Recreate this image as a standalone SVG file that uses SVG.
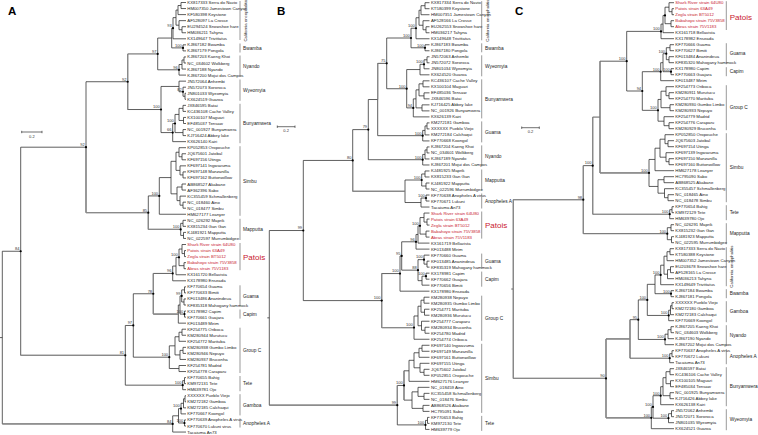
<svg xmlns="http://www.w3.org/2000/svg" width="758" height="435" viewBox="0 0 758 435">
<style>
.br{fill:none;stroke:#2a2a2a;stroke-width:0.75}
.gr{fill:none;stroke:#8a8a8a;stroke-width:1.2}
.lf{font-family:"Liberation Sans",Arial,sans-serif;font-size:4.3px;fill:#222}
.red{fill:#c8202f}
.nl{font-family:"Liberation Sans",Arial,sans-serif;font-size:4px;fill:#333;text-anchor:end}
.dot{fill:#000}
.cl{font-family:"Liberation Sans",Arial,sans-serif;font-size:4.8px;fill:#222}
.pat{font-size:8px;fill:#c8202f}
.bar{fill:none;stroke:#555;stroke-width:0.6}
.pl{font-family:"Liberation Sans",Arial,sans-serif;font-size:11.5px;font-weight:bold;fill:#000}
.sb{fill:none;stroke:#333;stroke-width:0.7}
.sbt{font-family:"Liberation Sans",Arial,sans-serif;font-size:4px;fill:#333;text-anchor:middle}
.vt{text-anchor:middle;font-size:4.3px}
</style>
<rect width="758" height="435" fill="#fff"/>

<!-- ================= PANEL A ================= -->
<g id="panelA">
<text class="pl" x="8" y="15">A</text>
<g id="A-connectors">
<path class="br" d="M0,337.6H2.3 M2.3,251.26V423.93 M2.3,251.26H20.7 M2.3,423.93H172.7
M20.7,147.19V355.32 M20.7,147.19H86 M20.7,355.32H125.3
M86,81.73V212.65 M86,81.73H127.7 M86,212.65H148.3
M127.7,53.93V109.52 M127.7,53.93H157.7 M127.7,109.52H161
M157.7,38.05V69.81 M157.7,38.05H171.7 M157.7,69.81H179
M171.7,28.21V47.88 M171.7,28.21H173 M171.7,47.88H183
M173,17.63V38.8 M173,17.63H176 M173,38.8H186
M176,10.06V25.19 M176,10.06H178 M176,25.19H179
M178,5.53V14.6 M178,5.53H181 M178,14.6H186
M181,2.5V8.55 M181,2.5H186 M181,8.55H186
M179,20.65V29.73 M179,20.65H186 M179,29.73H182
M182,26.7V32.75 M182,26.7H186 M182,32.75H186
M183,44.85V50.9 M183,44.85H186 M183,50.9H186
M179,64.51V75.1 M179,64.51H182 M179,75.1H186
M182,59.98V69.05 M182,59.98H184 M182,69.05H186
M184,56.95V63 M184,56.95H186 M184,63H186
M161,86.45V132.58 M161,86.45H179 M161,132.58H172.7
M179,81.15V91.74 M179,81.15H186 M179,91.74H183
M183,87.2V96.28 M183,87.2H186 M183,96.28H185
M185,93.25V99.3 M185,93.25H186 M185,99.3H186
M172.7,123.5V141.65 M172.7,123.5H175 M172.7,141.65H186
M175,114.43V132.58 M175,114.43H179 M175,132.58H183
M179,108.38V120.48 M179,108.38H183 M179,120.48H183.5
M183,105.35V111.4 M183,105.35H186 M183,111.4H186
M183.5,117.45V123.5 M183.5,117.45H186 M183.5,123.5H186
M183,129.55V135.6 M183,129.55H186 M183,135.6H186
M148.3,195.92V229.38 M148.3,195.92H159.3 M148.3,229.38H180.7
M159.3,177.58V214.25 M159.3,177.58H171 M159.3,214.25H186
M171,161.32V193.84 M171,161.32H176 M171,193.84H177
M176,152.24V170.39 M176,152.24H179 M176,170.39H180
M179,147.7V156.78 M179,147.7H186 M179,156.78H182
M182,153.75V159.8 M182,153.75H186 M182,159.8H186
M180,165.85V174.93 M180,165.85H186 M180,174.93H183
M183,171.9V177.95 M183,171.9H186 M183,177.95H186
M177,187.03V200.64 M177,187.03H182 M177,200.64H180
M182,184V190.05 M182,184H186 M182,190.05H186
M180,196.1V205.18 M180,196.1H186 M180,205.18H183
M183,202.15V208.2 M183,202.15H186 M183,208.2H186
M180.7,223.33V235.43 M180.7,223.33H183 M180.7,235.43H183.5
M183,220.3V226.35 M183,220.3H186 M183,226.35H186
M183.5,232.4V238.45 M183.5,232.4H186 M183.5,238.45H186
M125.3,325.47V385.16 M125.3,325.47H133.3 M125.3,385.16H182.7
M133.3,293.76V357.18 M133.3,293.76H153.3 M133.3,357.18H169.3
M153.3,273.43V314.08 M153.3,273.43H172.7 M153.3,314.08H178.3
M172.7,266.06V280.8 M172.7,266.06H176 M172.7,280.8H186
M176,257.36V274.75 M176,257.36H179 M176,274.75H186
M179,249.04V265.68 M179,249.04H182 M179,265.68H184
M182,244.5V253.58 M182,244.5H186 M182,253.58H184.5
M184.5,250.55V256.6 M184.5,250.55H186 M184.5,256.6H186
M184,262.65V268.7 M184,262.65H186 M184,268.7H186
M178.3,305V323.15 M178.3,305H180 M178.3,323.15H186
M180,295.93V314.08 M180,295.93H181.7 M180,314.08H184.5
M181.7,289.88V301.98 M181.7,289.88H184.5 M181.7,301.98H184
M184.5,286.85V292.9 M184.5,286.85H186 M184.5,292.9H186
M184,298.95V305 M184,298.95H186 M184,305H186
M184.5,311.05V317.1 M184.5,311.05H186 M184.5,317.1H186
M169.3,345.84V368.53 M169.3,345.84H175 M169.3,368.53H179
M175,336.76V354.91 M175,336.76H179 M175,354.91H180
M179,332.23V341.3 M179,332.23H182 M179,341.3H186
M182,329.2V335.25 M182,329.2H186 M182,335.25H186
M180,350.38V359.45 M180,350.38H183 M180,359.45H186
M183,347.35V353.4 M183,347.35H186 M183,353.4H186
M179,365.5V371.55 M179,365.5H186 M179,371.55H186
M182.7,380.63V389.7 M182.7,380.63H184.5 M182.7,389.7H186
M184.5,377.6V383.65 M184.5,377.6H186 M184.5,383.65H186
M172.7,415.8V432.05 M172.7,415.8H178.5 M172.7,432.05H186
M178.5,408.61V422.98 M178.5,408.61H181 M178.5,422.98H184.5
M181,403.31V413.9 M181,403.31H183.5 M181,413.9H186
M183.5,398.78V407.85 M183.5,398.78H185 M183.5,407.85H186
M185,395.75V401.8 M185,395.75H186 M185,401.8H186
M184.5,419.95V426 M184.5,419.95H186 M184.5,426H186"/>
<path class="gr" d="M86,147.19V212.65 M86,212.65H148.3 M20.7,355.32H125.3 M2.3,423.93H172.7 M127.7,53.93V109.52 M148.3,212.65V229.38 M148.3,229.38H180.7 M153.3,273.43V314.08 M153.3,314.08H178.3"/>
</g>
<g id="A-dots" class="dot">
<circle cx="173" cy="28.21" r="1.1"/><circle cx="183" cy="47.88" r="1.1"/><circle cx="157.7" cy="53.93" r="1.1"/><circle cx="179" cy="69.81" r="1.1"/><circle cx="127.7" cy="81.73" r="1.1"/><circle cx="183" cy="91.74" r="1.1"/><circle cx="161" cy="109.52" r="1.1"/><circle cx="175" cy="123.5" r="1.1"/><circle cx="172.7" cy="132.58" r="1.1"/><circle cx="86" cy="147.19" r="1.1"/><circle cx="159.3" cy="195.92" r="1.1"/><circle cx="148.3" cy="212.65" r="1.1"/><circle cx="180.7" cy="229.38" r="1.1"/><circle cx="179" cy="257.36" r="1.1"/><circle cx="172.7" cy="273.43" r="1.1"/><circle cx="153.3" cy="293.76" r="1.1"/><circle cx="181.7" cy="295.93" r="1.1"/><circle cx="184.5" cy="314.08" r="1.1"/><circle cx="133.3" cy="325.47" r="1.1"/><circle cx="125.3" cy="355.32" r="1.1"/><circle cx="169.3" cy="357.18" r="1.1"/><circle cx="182.7" cy="385.16" r="1.1"/><circle cx="20.7" cy="251.26" r="1.1"/><circle cx="181" cy="408.61" r="1.1"/><circle cx="184.5" cy="422.98" r="1.1"/><circle cx="172.7" cy="423.93" r="1.1"/>
</g>
<g id="A-support" class="nl">
<text x="171.8" y="27">93</text><text x="181.8" y="46.7">100</text><text x="156.5" y="52.7">97</text><text x="177.8" y="68.6">96</text><text x="126.5" y="80.5">92</text><text x="181.8" y="90.5">82</text><text x="159.8" y="108.3">100</text><text x="173.8" y="122.3">100</text><text x="171.5" y="131.4">66</text><text x="84.8" y="146">92</text><text x="158.1" y="194.7">100</text><text x="147.1" y="211.5">85</text><text x="179.5" y="228.2">100</text><text x="177.8" y="256.2">100</text><text x="171.5" y="272.2">96</text><text x="152.1" y="292.6">78</text><text x="180.5" y="294.7">99</text><text x="183.3" y="312.9">100</text><text x="132.1" y="324.3">97</text><text x="124.1" y="354.1">81</text><text x="168.1" y="356">100</text><text x="181.5" y="384">100</text><text x="19.5" y="250.1">84</text><text x="179.8" y="407.4">100</text><text x="183.3" y="421.8">100</text><text x="171.5" y="422.7">84</text>
</g>
<g id="A-leaves" class="lf" transform="translate(187.3,0)">
<text y="4">KX817333 Serra do Navio</text><text y="10.05">HM007350 Jamestown Canyon</text><text y="16.1">KF580398 Keystone</text><text y="22.15">AF528097 La Crosse</text><text y="28.2">EU294524 Snowshoe hare</text><text y="34.25">HM036211 Tahyna</text><text y="40.3">KX149647 Trivittatus</text><text y="46.35">KJ867182 Bwamba</text><text y="52.4">KJ867179 Pongola</text><text y="58.45">KJ867203 Kaeng Khoi</text><text y="64.5">NC_034602 Wolkberg</text><text y="70.55">KJ867188 Nyando</text><text y="76.6">KJ867200 Mojui dos Campos</text><text y="82.65">JN572064 Anhembi</text><text y="88.7">JN572073 Sororoca</text><text y="94.75">JN801033 Wyeomyia</text><text y="100.8">KX624519 Guaroa</text><text y="106.85">JX846595 Batai</text><text y="112.9">KC436108 Cache Valley</text><text y="118.95">KX100107 Maguari</text><text y="125">EF485037 Tensaw</text><text y="131.05">NC_001927 Bunyamwera</text><text y="137.1">KJ716424 Abbey lake</text><text y="143.15">KX626140 Kairi</text><text y="149.2">KP052853 Oropouche</text><text y="155.25">JQ675601 Jatobal</text><text y="161.3">KF697156 Utinga</text><text y="167.35">KF697141 Ingwavuma</text><text y="173.4">KF697148 Manzanilla</text><text y="179.45">KF697162 Buttonwillow</text><text y="185.5">AB868527 Akabane</text><text y="191.55">AF362396 Sabo</text><text y="197.6">KC355459 Schmallenberg</text><text y="203.65">NC_018460 Aino</text><text y="209.7">NC_018477 Simbu</text><text y="215.75">HM627177 Leanyer</text><text y="221.8">NC_026292 Maprik</text><text y="227.85">KX815234 Gan Gan</text><text y="233.9">KJ481921 Mapputta</text><text y="239.95">NC_022597 Murrumbidgee</text>
<text class="red" y="246">Shark River strain 64U80</text><text class="red" y="252.05">Patois strain 63A49</text><text class="red" y="258.1">Zegla strain BT5012</text><text class="red" y="264.15">Babahoyo strain 75V3858</text><text class="red" y="270.2">Abras strain 75V1183</text>
<text y="276.25">KX161720 Bellavista</text><text y="282.3">KX178980 Enseada</text><text y="288.35">KF770654 Guama</text><text y="294.4">KF770633 Bimiti</text><text y="300.45">KF013486 Ananindeua</text><text y="306.5">KF835318 Mahogany hammock</text><text y="312.55">KX178982 Capim</text><text y="318.6">KF770661 Guajara</text><text y="324.65">KF013489 Mirim</text><text y="330.7">KF254775 Oriboca</text><text y="336.75">KM280944 Murutucu</text><text y="342.8">KF254772 Marituba</text><text y="348.85">KM280938 Gumbo Limbo</text><text y="354.9">KM280946 Nepuyo</text><text y="360.95">KM280937 Bruconha</text><text y="367">KF254781 Madrid</text><text y="373.05">KF254778 Caraparu</text><text y="379.1">KF770655 Bahig</text><text y="385.15">KM972131 Tete</text><text y="391.2">HM639781 Ojo</text><text y="397.25">XXXXXX Pueblo Viejo</text><text y="403.3">KM272182 Gamboa</text><text y="409.35">KM272185 Calchaqui</text><text y="415.4">KF770667 Koongol</text><text y="421.45">KF770639 Anopheles A virus</text><text y="427.5">KF770670 Lukuni virus</text><text y="433.55">Tacaiuma An73</text>
</g>
<g id="A-clades">
<path class="bar" d="M240,1V40 M240,43.5V52.5 M240,55.5V76.5 M240,79.5V100.8 M240,103.8V143.2 M240,146.2V215.8 M240,218.8V240 M240,243V270.2 M240,285.3V306.5 M240,309.5V318.6 M240,327.7V373 M240,376V391.2 M240,394.2V415.4 M240,418.4V427.5"/>
<text class="lf vt" transform="translate(247,20.5) rotate(-90)">California encephalitis</text>
<g class="cl" transform="translate(243,0)">
<text y="49.6">Bwamba</text><text y="67.7">Nyando</text><text y="91.9">Wyeomyia</text><text y="125.2">Bunyamwera</text><text y="182.7">Simbu</text><text y="231.1">Mapputta</text><text class="pat" y="259.5">Patois</text><text y="297.7">Guama</text><text y="315.8">Capim</text><text y="352.1">Group C</text><text y="385.3">Tete</text><text y="406.5">Gamboa</text><text y="424.7">Anopheles A</text>
</g>
</g>
<g id="A-scale">
<path class="sb" d="M21.7,132H42 M21.7,130.8V133.2 M42,130.8V133.2"/>
<text class="sbt" x="31.85" y="137.5">0.2</text>
</g>
</g>

<!-- ================= PANEL B ================= -->
<g id="panelB">
<text class="pl" x="277" y="15">B</text>
<g id="B-connectors">
<path class="br" d="M267.3,317.85H269.3 M269.3,230.52V405.18 M269.3,230.52H303.3 M269.3,405.18H397.3
M303.3,160.44V300.6 M303.3,160.44H352.7 M303.3,300.6H381.7
M352.7,129.62V191.27 M352.7,129.62H368.3 M352.7,191.27H405
M368.3,99.52V159.71 M368.3,99.52H377.7 M368.3,159.71H422.7
M377.7,63.37V135.67 M377.7,63.37H386.7 M377.7,135.67H422.7
M386.7,38.01V88.72 M386.7,38.01H411 M386.7,88.72H406.7
M411,28.24V47.78 M411,28.24H416 M411,47.78H425
M416,17.73V38.76 M416,17.73H419 M416,38.76H429.5
M419,10.21V25.24 M419,10.21H421 M419,25.24H423
M421,5.71V14.72 M421,5.71H425 M421,14.72H429.5
M425,2.7V8.71 M425,2.7H429.5 M425,8.71H429.5
M423,20.73V29.75 M423,20.73H429.5 M423,29.75H426
M426,26.74V32.75 M426,26.74H429.5 M426,32.75H429.5
M425,44.77V50.78 M425,44.77H429.5 M425,50.78H429.5
M406.7,69.56V107.88 M406.7,69.56H420 M406.7,107.88H413.3
M420,64.3V74.82 M420,64.3H424 M420,74.82H429.5
M424,59.8V68.81 M424,59.8H427 M424,68.81H429.5
M427,56.79V62.8 M427,56.79H429.5 M427,62.8H429.5
M413.3,98.87V116.89 M413.3,98.87H416 M413.3,116.89H429.5
M416,89.85V107.88 M416,89.85H419 M416,107.88H422
M419,83.84V95.86 M419,83.84H423 M419,95.86H424
M423,80.83V86.84 M423,80.83H429.5 M423,86.84H429.5
M424,92.85V98.86 M424,92.85H429.5 M424,98.86H429.5
M422,104.87V110.88 M422,104.87H429.5 M422,110.88H429.5
M422.7,130.41V140.93 M422.7,130.41H425 M422.7,140.93H429.5
M425,125.91V134.92 M425,125.91H427 M425,134.92H429.5
M427,122.9V128.91 M427,122.9H429.5 M427,128.91H429.5
M422.7,154.45V164.97 M422.7,154.45H425 M422.7,164.97H429.5
M425,149.95V158.96 M425,149.95H427 M425,158.96H429.5
M427,146.94V152.95 M427,146.94H429.5 M427,152.95H429.5
M405,180V202.53 M405,180H421.7 M405,202.53H421
M421.7,173.99V186.01 M421.7,173.99H425 M421.7,186.01H426
M425,170.98V176.99 M425,170.98H429.5 M425,176.99H429.5
M426,183V189.01 M426,183H429.5 M426,189.01H429.5
M421,198.03V207.04 M421,198.03H426 M421,207.04H429.5
M426,195.02V201.03 M426,195.02H429.5 M426,201.03H429.5
M381.7,273.57V327.62 M381.7,273.57H400 M381.7,327.62H414
M400,255.97V291.18 M400,255.97H401.7 M400,291.18H429.5
M401.7,241.79V270.15 M401.7,241.79H416 M401.7,270.15H418
M416,234.46V249.11 M416,234.46H418 M416,249.11H429.5
M418,225.82V243.1 M418,225.82H420 M418,243.1H429.5
M420,217.56V234.09 M420,217.56H424 M420,234.09H426
M424,213.05V222.07 M424,213.05H429.5 M424,222.07H427
M427,219.06V225.07 M427,219.06H429.5 M427,225.07H429.5
M426,231.08V237.09 M426,231.08H429.5 M426,237.09H429.5
M418,259.63V280.66 M418,259.63H424 M418,280.66H422
M424,255.12V264.14 M424,255.12H429.5 M424,264.14H427
M427,261.13V267.14 M427,261.13H429.5 M427,267.14H429.5
M422,276.16V285.17 M422,276.16H426 M422,285.17H429.5
M426,273.15V279.16 M426,273.15H429.5 M426,279.16H429.5
M414,315.98V339.26 M414,315.98H418 M414,339.26H429.5
M418,306.21V325.74 M418,306.21H421 M418,325.74H421.5
M421,300.2V312.22 M421,300.2H424 M421,312.22H424.5
M424,297.19V303.2 M424,297.19H429.5 M424,303.2H429.5
M424.5,309.21V315.22 M424.5,309.21H429.5 M424.5,315.22H429.5
M421.5,321.23V330.25 M421.5,321.23H429.5 M421.5,330.25H425
M425,327.24V333.25 M425,327.24H429.5 M425,333.25H429.5
M397.3,385.46V424.9 M397.3,385.46H404 M397.3,424.9H425.5
M404,370.81V400.11 M404,370.81H409 M404,400.11H412
M409,360.3V381.33 M409,360.3H414 M409,381.33H429.5
M414,352.78V367.81 M414,352.78H419 M414,367.81H420
M419,348.28V357.29 M419,348.28H422 M419,357.29H429.5
M422,345.27V351.28 M422,345.27H429.5 M422,351.28H429.5
M420,363.3V372.32 M420,363.3H429.5 M420,372.32H424
M424,369.31V375.32 M424,369.31H429.5 M424,375.32H429.5
M412,391.85V408.38 M412,391.85H418 M412,408.38H423
M418,387.34V396.36 M418,387.34H429.5 M418,396.36H424
M424,393.35V399.36 M424,393.35H429.5 M424,399.36H429.5
M423,405.37V411.38 M423,405.37H429.5 M423,411.38H429.5
M425.5,420.4V429.41 M425.5,420.4H427.5 M425.5,429.41H429.5
M427.5,417.39V423.4 M427.5,417.39H429.5 M427.5,423.4H429.5"/>
<path class="gr" d="M269.3,405.18H397.3 M352.7,160.44V191.27 M352.7,191.27H405 M381.7,273.57V327.62 M381.7,327.62H414 M397.3,385.46V405.18 M404,370.81V400.11 M377.7,63.37V99.52"/>
</g>
<g id="B-dots" class="dot">
<circle cx="416" cy="28.24" r="1.1"/><circle cx="411" cy="38.01" r="1.1"/><circle cx="425" cy="47.78" r="1.1"/><circle cx="386.7" cy="63.37" r="1.1"/><circle cx="424" cy="64.3" r="1.1"/><circle cx="406.7" cy="88.72" r="1.1"/><circle cx="413.3" cy="107.88" r="1.1"/><circle cx="368.3" cy="129.62" r="1.1"/><circle cx="422.7" cy="135.67" r="1.1"/><circle cx="352.7" cy="160.44" r="1.1"/><circle cx="422.7" cy="159.71" r="1.1"/><circle cx="303.3" cy="230.52" r="1.1"/><circle cx="421.7" cy="180" r="1.1"/><circle cx="426" cy="198.03" r="1.1"/><circle cx="420" cy="225.82" r="1.1"/><circle cx="416" cy="241.79" r="1.1"/><circle cx="401.7" cy="255.97" r="1.1"/><circle cx="424" cy="259.63" r="1.1"/><circle cx="418" cy="270.15" r="1.1"/><circle cx="426" cy="276.16" r="1.1"/><circle cx="400" cy="273.57" r="1.1"/><circle cx="381.7" cy="300.6" r="1.1"/><circle cx="414" cy="327.62" r="1.1"/><circle cx="404" cy="385.46" r="1.1"/><circle cx="397.3" cy="405.18" r="1.1"/><circle cx="425.5" cy="424.9" r="1.1"/>
</g>
<g id="B-support" class="nl">
<text x="414.8" y="27">100</text><text x="409.8" y="36.8">100</text><text x="423.8" y="46.6">100</text><text x="385.5" y="62.2">75</text><text x="422.8" y="63.1">100</text><text x="405.5" y="87.5">100</text><text x="412.1" y="106.7">94</text><text x="367.1" y="128.4">79</text><text x="421.5" y="134.5">100</text><text x="351.5" y="159.2">80</text><text x="421.5" y="158.5">100</text><text x="302.1" y="229.3">99</text><text x="420.5" y="178.8">100</text><text x="424.8" y="196.8">100</text><text x="418.8" y="224.6">100</text><text x="414.8" y="240.6">96</text><text x="400.5" y="254.8">95</text><text x="422.8" y="258.4">100</text><text x="416.8" y="269">88</text><text x="424.8" y="275">100</text><text x="398.8" y="272.4">100</text><text x="380.5" y="299.4">100</text><text x="412.8" y="326.4">100</text><text x="402.8" y="384.3">100</text><text x="396.1" y="404">99</text><text x="424.3" y="423.7">100</text>
</g>
<g id="B-leaves" class="lf" transform="translate(431,0)">
<text y="4.2">KX817334 Serra do Navio</text><text y="10.21">KT580399 Keystone</text><text y="16.22">HM007351 Jamestown Canyon</text><text y="22.23">AF528166 La Crosse</text><text y="28.24">EU262553 Snowshoe hare</text><text y="34.25">HM036217 Tahyna</text><text y="40.26">KX149648 Trivittatus</text><text y="46.27">KJ867183 Bwamba</text><text y="52.28">KJ867180 Pongola</text><text y="58.29">JN572063 Anhembi</text><text y="64.3">JN572072 Sororoca</text><text y="70.31">JN801034 Wyeomyia</text><text y="76.32">KX624520 Guaroa</text><text y="82.33">KC436107 Cache Valley</text><text y="88.34">KX100104 Maguari</text><text y="94.35">EF485036 Tensaw</text><text y="100.36">JX846596 Batai</text><text y="106.37">KJ716425 Abbey lake</text><text y="112.38">NC_001926 Bunyamwera</text><text y="118.39">KX626139 Kairi</text><text y="124.4">KM272181 Gamboa</text><text y="130.41">XXXXXX Pueblo Viejo</text><text y="136.42">KM272184 Calchaqui</text><text y="142.43">KF770668 Koongol</text><text y="148.44">KJ867204 Kaeng Khoi</text><text y="154.45">NC_034601 Wolkberg</text><text y="160.46">KJ867189 Nyando</text><text y="166.47">KJ867201 Mojui dos Campos</text><text y="172.48">KJ481925 Maprik</text><text y="178.49">KX815233 Gan Gan</text><text y="184.5">KJ481922 Mapputta</text><text y="190.51">NC_022596 Murrumbidgee</text><text y="196.52">KF770638 Anopheles A virus</text><text y="202.53">KF770671 Lukuni</text><text y="208.54">Tacaiuma An73</text>
<text class="red" y="214.55">Shark River strain 64U80</text><text class="red" y="220.56">Patois strain 63A49</text><text class="red" y="226.57">Zegla strain BT5012</text><text class="red" y="232.58">Babahoyo strain 75V3858</text><text class="red" y="238.59">Abras strain 75V1183</text>
<text y="244.6">KX161719 Bellavista</text><text y="250.61">KF013488 Mirim</text><text y="256.62">KF770660 Guama</text><text y="262.63">KF013485 Ananindeua</text><text y="268.64">KF835319 Mahogany hammock</text><text y="274.65">KX178981 Capim</text><text y="280.66">KF770662 Guajara</text><text y="286.67">KF770656 Bimiti</text><text y="292.68">KX178980 Enseada</text><text y="298.69">KM280938 Nepuyo</text><text y="304.7">KM280935 Gumbo Limbo</text><text y="310.71">KF254771 Marituba</text><text y="316.72">KM280936 Murutucu</text><text y="322.73">KF254777 Caraparu</text><text y="328.74">KM280934 Bruconha</text><text y="334.75">KF254780 Madrid</text><text y="340.76">KF254774 Oriboca</text><text y="346.77">KF697140 Ingwavuma</text><text y="352.78">KF697149 Manzanilla</text><text y="358.79">KF697161 Buttonwillow</text><text y="364.8">KF697155 Utinga</text><text y="370.81">JQ675602 Jatobal</text><text y="376.82">KP052851 Oropouche</text><text y="382.83">HM627176 Leanyer</text><text y="388.84">NC_018459 Aino</text><text y="394.85">KC355458 Schmallenberg</text><text y="400.86">NC_018476 Simbu</text><text y="406.87">AB868526 Akabane</text><text y="412.88">HC795091 Sabo</text><text y="418.89">KF770653 Bahig</text><text y="424.9">KM972130 Tete</text><text y="430.91">HM639779 Ojo</text>
</g>
<g id="B-clades">
<path class="bar" d="M481.7,1.2V40.3 M481.7,43.3V52.3 M481.7,55.3V76.3 M481.7,79.3V118.4 M481.7,121.4V142.4 M481.7,145.4V166.5 M481.7,169.5V190.5 M481.7,193.5V208.5 M481.7,211.5V238.6 M481.7,253.6V268.6 M481.7,271.6V286.7 M481.7,295.7V340.8 M481.7,343.8V412.9 M481.7,415.9V430.9"/>
<text class="lf vt" transform="translate(488.5,20.7) rotate(-90)">California encephalitis</text>
<g class="cl" transform="translate(485,0)">
<text y="49.5">Bwamba</text><text y="67.5">Wyeomyia</text><text y="100.6">Bunyamwera</text><text y="133.6">Guama</text><text y="157.7">Nyando</text><text y="181.7">Mapputta</text><text y="202.7">Anopheles A</text><text class="pat" y="228">Patois</text><text y="262.8">Guama</text><text y="280.9">Capim</text><text y="319.9">Group C</text><text y="380">Simbu</text><text y="425.1">Tete</text>
</g>
</g>
<g id="B-scale">
<path class="sb" d="M277.3,126.7H295 M277.3,125.5V127.9 M295,125.5V127.9"/>
<text class="sbt" x="286.15" y="132.3">0.2</text>
</g>
</g>

<!-- ================= PANEL C ================= -->
<g id="panelC">
<text class="pl" x="515" y="15">C</text>
<g id="C-connectors">
<path class="br" d="M511.3,289.03H513.3 M513.3,199.67V378.38 M513.3,199.67H583.3 M513.3,378.38H606
M583.3,165.64V233.7 M583.3,165.64H592.7 M583.3,233.7H667.3
M592.7,117.08V214.2 M592.7,117.08H600 M592.7,214.2H669.7
M600,61.2V172.95 M600,61.2H626.7 M600,172.95H649
M626.7,31.39V91.01 M626.7,31.39H661 M626.7,91.01H642.3
M661,24.08V38.7 M661,24.08H663 M661,38.7H674
M663,15.45V32.7 M663,15.45H665 M663,32.7H674
M665,7.2V23.7 M665,7.2H669 M665,23.7H671
M669,2.7V11.7 M669,2.7H674 M669,11.7H672
M672,8.7V14.7 M672,8.7H674 M672,14.7H674
M671,20.7V26.7 M671,20.7H674 M671,26.7H674
M642.3,71.7V110.33 M642.3,71.7H660.7 M642.3,110.33H658
M660.7,62.7V80.7 M660.7,62.7H663 M660.7,80.7H674
M663,53.7V71.7 M663,53.7H666.3 M663,71.7H671
M666.3,47.7V59.7 M666.3,47.7H670 M666.3,59.7H669
M670,44.7V50.7 M670,44.7H674 M670,50.7H674
M669,56.7V62.7 M669,56.7H674 M669,62.7H674
M671,68.7V74.7 M671,68.7H674 M671,74.7H674
M658,99.45V121.2 M658,99.45H661 M658,121.2H664
M661,91.2V107.7 M661,91.2H666 M661,107.7H670
M666,86.7V95.7 M666,86.7H674 M666,95.7H669
M669,92.7V98.7 M669,92.7H674 M669,98.7H674
M670,104.7V110.7 M670,104.7H674 M670,110.7H674
M664,116.7V125.7 M664,116.7H674 M664,125.7H669
M669,122.7V128.7 M669,122.7H674 M669,128.7H674
M649,159.45V186.45 M649,159.45H655 M649,186.45H658
M655,148.2V170.7 M655,148.2H660 M655,170.7H674
M660,139.2V157.2 M660,139.2H665 M660,157.2H666
M665,134.7V143.7 M665,134.7H674 M665,143.7H668
M668,140.7V146.7 M668,140.7H674 M668,146.7H674
M666,152.7V161.7 M666,152.7H674 M666,161.7H669
M669,158.7V164.7 M669,158.7H674 M669,164.7H674
M658,179.7V193.2 M658,179.7H664 M658,193.2H664.5
M664,176.7V182.7 M664,176.7H674 M664,182.7H674
M664.5,188.7V197.7 M664.5,188.7H674 M664.5,197.7H668
M668,194.7V200.7 M668,194.7H674 M668,200.7H674
M669.7,209.7V218.7 M669.7,209.7H672 M669.7,218.7H674
M672,206.7V212.7 M672,206.7H674 M672,212.7H674
M667.3,227.7V239.7 M667.3,227.7H671 M667.3,239.7H671.5
M671,224.7V230.7 M671,224.7H674 M671,230.7H674
M671.5,236.7V242.7 M671.5,236.7H674 M671.5,242.7H674
M606,338.94V417.83 M606,338.94H630 M606,417.83H651.3
M630,319.67V358.2 M630,319.67H638.3 M630,358.2H669.7
M638.3,299.89V339.45 M638.3,299.89H647.3 M638.3,339.45H665
M647.3,284.33V315.45 M647.3,284.33H655 M647.3,315.45H668.7
M655,274.95V293.7 M655,274.95H660.7 M655,293.7H671
M660.7,265.2V284.7 M660.7,265.2H664 M660.7,284.7H674
M664,256.2V274.2 M664,256.2H667 M664,274.2H667.5
M667,251.7V260.7 M667,251.7H670 M667,260.7H674
M670,248.7V254.7 M670,248.7H674 M670,254.7H674
M667.5,269.7V278.7 M667.5,269.7H670.5 M667.5,278.7H674
M670.5,266.7V272.7 M670.5,266.7H674 M670.5,272.7H674
M671,290.7V296.7 M671,290.7H674 M671,296.7H674
M668.7,310.2V320.7 M668.7,310.2H670.5 M668.7,320.7H674
M670.5,305.7V314.7 M670.5,305.7H672 M670.5,314.7H674
M672,302.7V308.7 M672,302.7H674 M672,308.7H674
M665,334.2V344.7 M665,334.2H668 M665,344.7H674
M668,329.7V338.7 M668,329.7H671 M668,338.7H674
M671,326.7V332.7 M671,326.7H674 M671,332.7H674
M669.7,353.7V362.7 M669.7,353.7H672 M669.7,362.7H674
M672,350.7V356.7 M672,350.7H674 M672,356.7H674
M651.3,406.95V428.7 M651.3,406.95H653 M651.3,428.7H674
M653,395.7V418.2 M653,395.7H660.7 M653,418.2H668.5
M660.7,386.7V404.7 M660.7,386.7H663 M660.7,404.7H674
M663,377.7V395.7 M663,377.7H666 M663,395.7H670
M666,371.7V383.7 M666,371.7H670 M666,383.7H670.5
M670,368.7V374.7 M670,368.7H674 M670,374.7H674
M670.5,380.7V386.7 M670.5,380.7H674 M670.5,386.7H674
M670,392.7V398.7 M670,392.7H674 M670,398.7H674
M668.5,413.7V422.7 M668.5,413.7H671.5 M668.5,422.7H674
M671.5,410.7V416.7 M671.5,410.7H674 M671.5,416.7H674"/>
<path class="gr" d="M513.3,199.67V378.38 M513.3,199.67H583.3 M583.3,165.64V233.7 M592.7,117.08V214.2 M600,61.2V172.95 M600,172.95H649 M606,338.94V417.83 M606,338.94H630 M630,319.67V358.2 M606,417.83H651.3 M513.3,378.38H606"/>
</g>
<g id="C-dots" class="dot">
<circle cx="661" cy="31.39" r="1.1"/><circle cx="665" cy="15.45" r="1.1"/><circle cx="666.3" cy="53.7" r="1.1"/><circle cx="671" cy="71.7" r="1.1"/><circle cx="660.7" cy="71.7" r="1.1"/><circle cx="658" cy="110.33" r="1.1"/><circle cx="642.3" cy="91.01" r="1.1"/><circle cx="626.7" cy="61.2" r="1.1"/><circle cx="649" cy="172.95" r="1.1"/><circle cx="669.7" cy="214.2" r="1.1"/><circle cx="592.7" cy="165.64" r="1.1"/><circle cx="667.3" cy="233.7" r="1.1"/><circle cx="583.3" cy="199.67" r="1.1"/><circle cx="660.7" cy="274.95" r="1.1"/><circle cx="671" cy="293.7" r="1.1"/><circle cx="668.7" cy="315.45" r="1.1"/><circle cx="647.3" cy="299.89" r="1.1"/><circle cx="638.3" cy="319.67" r="1.1"/><circle cx="665" cy="339.45" r="1.1"/><circle cx="669.7" cy="358.2" r="1.1"/><circle cx="660.7" cy="395.7" r="1.1"/><circle cx="653" cy="406.95" r="1.1"/><circle cx="668.5" cy="418.2" r="1.1"/><circle cx="651.3" cy="417.83" r="1.1"/><circle cx="606" cy="378.38" r="1.1"/>
</g>
<g id="C-support" class="nl">
<text x="659.8" y="30.2">100</text><text x="665.1" y="52.5">100</text><text x="669.8" y="70.5">100</text><text x="659.5" y="70.5">100</text><text x="656.8" y="109.1">100</text><text x="641.1" y="89.8">94</text><text x="625.5" y="60">100</text><text x="647.8" y="171.8">100</text><text x="668.5" y="213">100</text><text x="591.5" y="164.4">100</text><text x="666.1" y="232.5">100</text><text x="582.1" y="198.5">98</text><text x="659.5" y="273.8">100</text><text x="669.8" y="292.5">100</text><text x="667.5" y="314.3">100</text><text x="646.1" y="298.7">100</text><text x="637.1" y="318.5">95</text><text x="663.8" y="338.3">100</text><text x="668.5" y="357">100</text><text x="659.5" y="394.5">100</text><text x="651.8" y="405.8">100</text><text x="667.3" y="417">100</text><text x="650.1" y="416.6">100</text><text x="604.8" y="377.2">90</text>
</g>
<g id="C-leaves" class="lf" transform="translate(675.3,0)">
<text class="red" y="4.2">Shark River strain 64U80</text><text class="red" y="10.2">Patois strain 63A49</text><text class="red" y="16.2">Zegla strain BT5012</text><text class="red" y="22.2">Babahoyo strain 75V3858</text><text class="red" y="28.2">Abras strain 75V1183</text>
<text y="34.2">KX161718 Bellavista</text><text y="40.2">KX178982 Enseada</text><text y="46.2">KF770666 Guama</text><text y="52.2">KF770627 Bimiti</text><text y="58.2">KF013484 Ananindeua</text><text y="64.2">KF835320 Mahogany hammock</text><text y="70.2">KX178980 Capim</text><text y="76.2">KF770663 Guajara</text><text y="82.2">KF013487 Mirim</text><text y="88.2">KF254773 Oriboca</text><text y="94.2">KM280911 Murutucu</text><text y="100.2">KF254770 Marituba</text><text y="106.2">KM280930 Gumbo Limbo</text><text y="112.2">KM280933 Nepuyo</text><text y="118.2">KF254779 Madrid</text><text y="124.2">KF254776 Caraparu</text><text y="130.2">KM280929 Bruconha</text><text y="136.2">KP052850 Oropouche</text><text y="142.2">JQ675603 Jatobal</text><text y="148.2">KF697154 Utinga</text><text y="154.2">KF697139 Ingwavuma</text><text y="160.2">KF697150 Manzanilla</text><text y="166.2">KF697160 Buttonwillow</text><text y="172.2">HM627178 Leanyer</text><text y="178.2">HC795090 Sabo</text><text y="184.2">AB868525 Akabane</text><text y="190.2">KC355457 Schmallenberg</text><text y="196.2">NC_018465 Aino</text><text y="202.2">NC_018478 Simbu</text><text y="208.2">KF770654 Bahig</text><text y="214.2">KM972129 Tete</text><text y="220.2">HM639780 Ojo</text><text y="226.2">NC_026291 Maprik</text><text y="232.2">KX815232 Gan Gan</text><text y="238.2">KJ481923 Mapputta</text><text y="244.2">NC_022595 Murrumbidgee</text><text y="250.2">KX817333 Serra do Navio</text><text y="256.2">KT580388 Keystone</text><text y="262.2">HM007352 Jamestown Canyon</text><text y="268.2">EU203678 Snowshoe hare</text><text y="274.2">AF528165 La Crosse</text><text y="280.2">HM036213 Tahyna</text><text y="286.2">KX149649 Trivittatus</text><text y="292.2">KJ867184 Bwamba</text><text y="298.2">KJ867181 Pongola</text><text y="304.2">XXXXXX Pueblo Viejo</text><text y="310.2">KM272180 Gamboa</text><text y="316.2">KM272183 Calchaqui</text><text y="322.2">KF770669 Koongol</text><text y="328.2">KJ867205 Kaeng Khoi</text><text y="334.2">NC_034603 Wolkberg</text><text y="340.2">KJ867190 Nyando</text><text y="346.2">KJ867202 Mojui dos Campos</text><text y="352.2">KF770637 Anopheles A virus</text><text y="358.2">KF770672 Lukuni</text><text y="364.2">Tacaiuma An73</text><text y="370.2">JX846597 Batai</text><text y="376.2">KC436106 Cache Valley</text><text y="382.2">KX100105 Maguari</text><text y="388.2">EF485034 Tensaw</text><text y="394.2">NC_001925 Bunyamwera</text><text y="400.2">KJ716426 Abbey lake</text><text y="406.2">KX626138 Kairi</text><text y="412.2">JN572062 Anhembi</text><text y="418.2">JN572071 Sororoca</text><text y="424.2">JN801035 Wyeomyia</text><text y="430.2">KX624521 Guaroa</text>
</g>
<g id="C-clades">
<path class="bar" d="M726.3,1.2V30 M726.3,43.2V64.2 M726.3,67.2V76.2 M726.3,85.2V130.2 M726.3,133.2V202.2 M726.3,205.2V220.2 M726.3,223.2V244.2 M726.3,247.2V286.2 M726.3,289.2V298.2 M726.3,301.2V322.2 M726.3,325.2V346.2 M726.3,349.2V364.2 M726.3,367.2V406.2 M726.3,409.2V430.2"/>
<text class="lf vt" transform="translate(733,266.7) rotate(-90)">California encephalitis</text>
<g class="cl" transform="translate(729.7,0)">
<text class="pat" y="19.5">Patois</text><text y="55.4">Guama</text><text y="73.4">Capim</text><text y="109.4">Group C</text><text y="169.4">Simbu</text><text y="214.4">Tete</text><text y="235.4">Mapputta</text><text y="295.4">Bwamba</text><text y="313.4">Gamboa</text><text y="337.4">Nyando</text><text y="358.4">Anopheles A</text><text y="388.4">Bunyamwera</text><text y="421.4">Wyeomyia</text>
</g>
</g>
<g id="C-scale">
<path class="sb" d="M521.7,127.7H539.3 M521.7,126.5V128.9 M539.3,126.5V128.9"/>
<text class="sbt" x="530.5" y="133.3">0.2</text>
</g>
</g>
</svg>
